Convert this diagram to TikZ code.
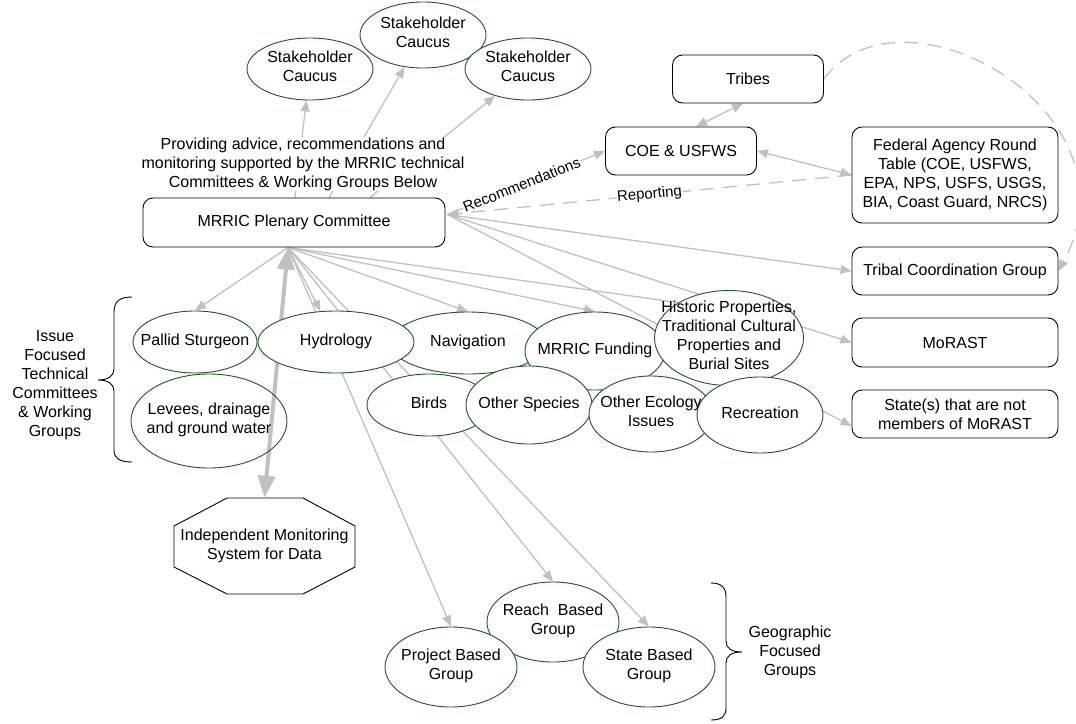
\documentclass[tikz,border=0pt]{standalone}
\usepackage{fontspec}
\setmainfont{Liberation Sans}
\usetikzlibrary{shapes.geometric,arrows.meta,calc}
\definecolor{egreen}{RGB}{30,85,30}
\definecolor{cgray}{RGB}{192,192,192}
\pgfdeclarelayer{bg}
\pgfsetlayers{bg,main}
\newcommand{\ztext}[1]{\smash{\makebox[0pt]{\raisebox{-.22em}{\begin{tabular}{@{}c@{}}#1\end{tabular}}}}}
\begin{document}
\begin{tikzpicture}[x=1pt,y=-1pt,
  every node/.style={font=\fontsize{16pt}{19pt}\selectfont},
  box/.style={draw=black, line width=0.9pt, rounded corners=10pt, fill=white, align=center, inner sep=2pt},
  ell/.style={ellipse, draw=egreen, line width=0.9pt, fill=white, inner sep=0pt},
  conn/.style={draw=cgray, line width=1.3pt, -{Triangle[length=11pt,width=9pt]}},
  thinline/.style={draw=cgray, line width=1.3pt},
  conn2/.style={draw=cgray, line width=1.3pt, {Triangle[length=11pt,width=9pt]}-{Triangle[length=11pt,width=9pt]}},
  dconn/.style={conn, dash pattern=on 14pt off 9pt},
  bigconn/.style={draw=cgray, line width=4pt, {Triangle[length=22pt,width=17pt]}-{Triangle[length=22pt,width=17pt]}},
  lbl/.style={fill=white, inner sep=0.5pt, font=\fontsize{15pt}{18pt}\selectfont}
]
\useasboundingbox (0,0) rectangle (1076,723);

% stakeholder caucuses
\node[ell, minimum width=126, minimum height=62] (sc1) at (310,69) {\ztext{Stakeholder\\Caucus}};
\node[ell, minimum width=126, minimum height=66] (sc2) at (423,35) {\ztext{Stakeholder\\Caucus}};
\node[ell, minimum width=126, minimum height=62] (sc3) at (528,69) {\ztext{Stakeholder\\Caucus}};

% boxes
\node[box, minimum width=302, minimum height=49] (plen) at (294,222.5) {MRRIC Plenary Committee};
\node[box, minimum width=151, minimum height=48] (tribes) at (748,79) {Tribes};
\node[box, minimum width=151, minimum height=48] (coe) at (681,151) {COE \& USFWS};
\node[box, minimum width=206, minimum height=96] (fed) at (955,175) {Federal Agency Round\\Table (COE, USFWS,\\EPA, NPS, USFS, USGS,\\BIA, Coast Guard, NRCS)};
\node[box, minimum width=206, minimum height=48] (tcg) at (955,271) {Tribal Coordination Group};
\node[box, minimum width=206, minimum height=49] (mor) at (955,342.5) {MoRAST};
\node[box, minimum width=206, minimum height=48] (st) at (955,414) {State(s) that are not\\members of MoRAST};

\coordinate (hubB) at ($(plen.south)+(-6,0)$);
\coordinate (hubR) at ($(plen.east)+(2,-8)$);

% label
\node[fill=white, inner sep=1pt, align=center] (adv) at (303,164) {Providing advice, recommendations and\\monitoring supported by the MRRIC technical\\Committees \& Working Groups Below};

% monitoring octagon
\node[minimum width=181, minimum height=96, align=center, inner sep=0pt] (mon) at (264.5,546) {Independent Monitoring\\System for Data};
\begin{pgfonlayer}{bg}
\draw[line width=0.9pt, fill=white] ($(mon.center)+(-90.5,-20)$) -- ($(mon.center)+(-37.5,-48)$) -- ($(mon.center)+(38.5,-48)$) -- ($(mon.center)+(90.5,-20)$) -- ($(mon.center)+(90.5,21)$) -- ($(mon.center)+(38.5,48)$) -- ($(mon.center)+(-37.5,48)$) -- ($(mon.center)+(-90.5,21)$) -- cycle;
\end{pgfonlayer}

% issue ellipses
\node[ell, minimum width=156, minimum height=62] (nav) at (468,343) {\ztext{Navigation}};
\node[ell, minimum width=140, minimum height=78] (fund) at (595,351) {\ztext{MRRIC Funding}};
\node[ell, minimum width=149, minimum height=95] (hist) at (729,338) {\ztext{Historic Properties,\\Traditional Cultural\\Properties and\\Burial Sites}};
\node[ell, minimum width=124, minimum height=62] (pal) at (195,342) {\ztext{Pallid Sturgeon}};
\draw[bigconn] (hubB) -- (mon.north);
\node[ell, fill=none, minimum width=156, minimum height=94] (lev) at (209,421) {\ztext{Levees, drainage\\and ground water}};
\node[ell, minimum width=156, minimum height=62] (hyd) at (336,342) {\ztext{Hydrology}};
\node[ell, minimum width=124, minimum height=62] (birds) at (429,405) {\ztext{Birds}};
\node[ell, minimum width=126, minimum height=78] (oth) at (529,405) {\ztext{Other Species}};
\node[ell, minimum width=124, minimum height=76] (eco) at (651,414) {\ztext{Other Ecology\\Issues}};
\node[ell, minimum width=126, minimum height=76] (rec) at (760,415) {\ztext{Recreation}};

% geographic groups
\node[ell, minimum width=132, minimum height=80] (reach) at (553,622) {\ztext{Reach~ Based\\Group}};
\node[ell, minimum width=132, minimum height=80] (proj) at (451,667) {\ztext{Project Based\\Group}};
\node[ell, minimum width=132, minimum height=80] (state) at (649,667) {\ztext{State Based\\Group}};

% braces and their labels
\draw[line width=0.9pt] (132,297) .. controls (119,297) and (114,302) .. (114,312) -- (114,369) .. controls (114,376) and (108,380) .. (98,380) .. controls (108,380) and (114,384) .. (114,391) -- (114,450) .. controls (114,458) and (119,462) .. (132,462);
\node[align=center] (iss) at (55,385) {Issue\\Focused\\Technical\\Committees\\\& Working\\Groups};
\draw[line width=0.9pt] (711,583) .. controls (722,583) and (726,588) .. (726,597) -- (726,641) .. controls (726,648) and (731,652) .. (742,652) .. controls (731,652) and (726,656) .. (726,663) -- (726,708) .. controls (726,716) and (722,720) .. (711,720);
\node[align=center] (geo) at (790,652) {Geographic\\Focused\\Groups};

% connectors
\begin{pgfonlayer}{bg}
\draw[conn] ($(plen.north)+(1,0)$) -- (sc1);
\draw[conn] ($(plen.north)+(35,0)$) -- (sc2);
\draw[conn] ($(plen.north)+(76,0)$) -- (sc3);
\draw[conn] (hubB) -- (pal.north);
\draw[conn] (hubB) -- (hyd);
\draw[conn] (hubB) -- (nav.north);
\draw[conn] (hubB) -- (fund.north);
\draw[thinline] (hubB) -- (hist.145);
\draw[conn] (hubB) -- (proj.north);
\draw[conn] (hubB) -- (reach.north);
\draw[conn] (hubB) -- (state.north);
\draw[conn] (hubR) -- (tcg.west);
\draw[conn] (hubR) -- (mor.west);
\draw[conn] (hubR) -- ($(st.west)+(0,12)$);
\draw[dconn] (fed.west) -- node[lbl, sloped] (repl) {Reporting} (hubR);
\draw[conn] (hubR) -- node[lbl, sloped, pos=0.47] (recl) {Recommendations} (coe.west);
\draw[conn2] ($(coe.north)+(15,0)$) -- ($(tribes.south)+(-5,0)$);
\draw[conn2] (coe.east) -- (fed.west);
\draw[dconn] (tribes.east) .. controls (900,-25) and (1145,110) .. (tcg.east);
\end{pgfonlayer}
\end{tikzpicture}
\end{document}
